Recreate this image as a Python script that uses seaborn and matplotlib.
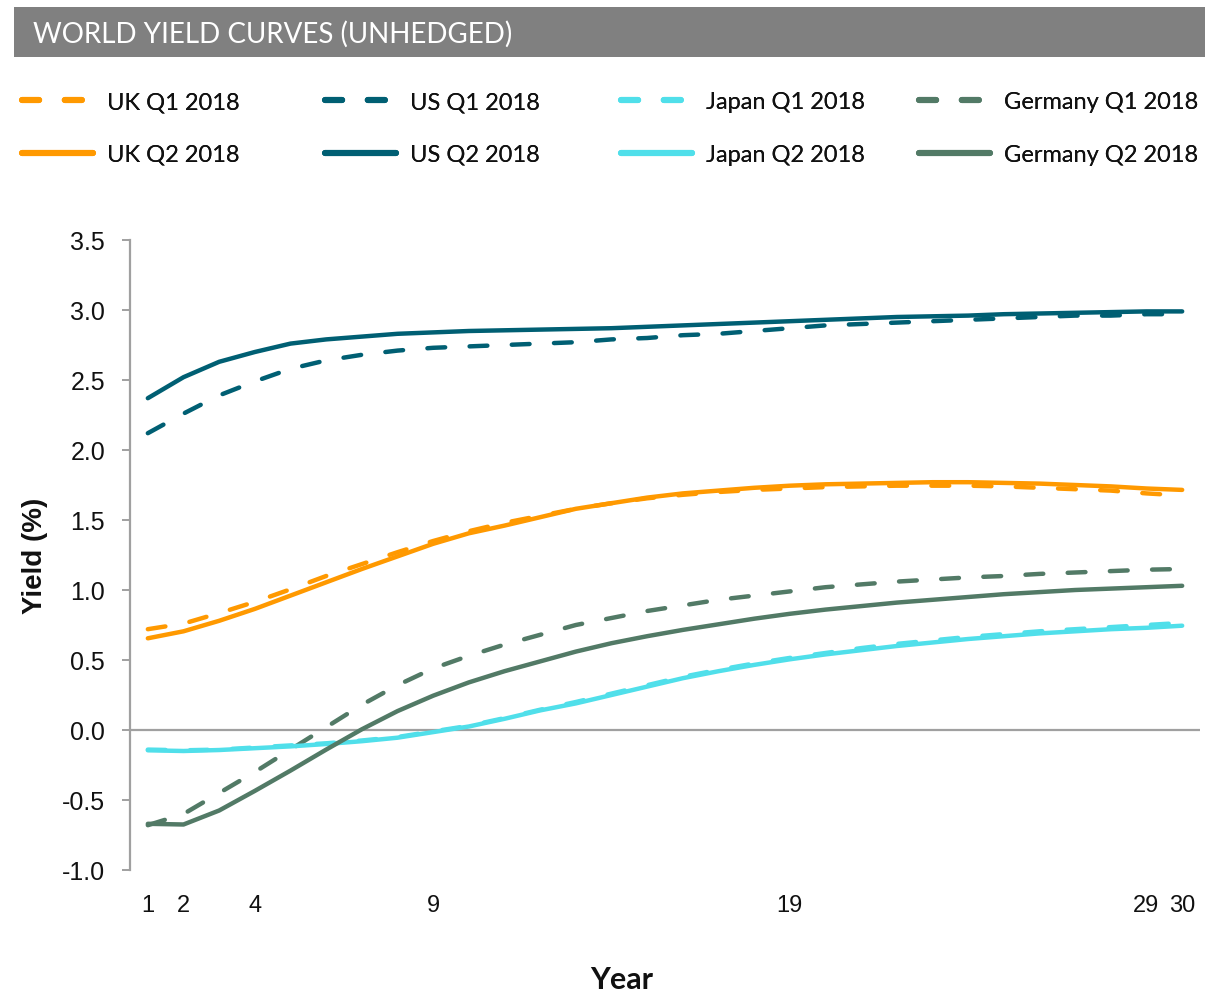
import numpy as np
import pandas as pd
import matplotlib
matplotlib.use("Agg")
import matplotlib.pyplot as plt
from matplotlib.lines import Line2D
from matplotlib.patches import Rectangle
import seaborn as sns

# ---- data -------------------------------------------------------------
years = list(range(1, 31))

uk_q1 = [0.72, 0.76, 0.835, 0.915, 1.005, 1.10, 1.185, 1.27, 1.35, 1.42,
         1.48, 1.53, 1.58, 1.62, 1.655, 1.68, 1.70, 1.715, 1.725, 1.735,
         1.74, 1.745, 1.745, 1.745, 1.74, 1.73, 1.72, 1.71, 1.69, 1.675]
uk_q2 = [0.655, 0.705, 0.78, 0.865, 0.96, 1.055, 1.15, 1.24, 1.33, 1.405,
         1.46, 1.52, 1.58, 1.62, 1.66, 1.69, 1.71, 1.73, 1.745, 1.755,
         1.76, 1.765, 1.77, 1.77, 1.765, 1.76, 1.75, 1.74, 1.725, 1.715]

us_q1 = [2.12, 2.26, 2.39, 2.49, 2.58, 2.64, 2.68, 2.71, 2.73, 2.74,
         2.75, 2.76, 2.77, 2.79, 2.80, 2.82, 2.83, 2.85, 2.87, 2.89,
         2.90, 2.91, 2.92, 2.93, 2.94, 2.95, 2.96, 2.96, 2.97, 2.97]
us_q2 = [2.37, 2.52, 2.63, 2.70, 2.76, 2.79, 2.81, 2.83, 2.84, 2.85,
         2.855, 2.86, 2.865, 2.87, 2.88, 2.89, 2.90, 2.91, 2.92, 2.93,
         2.94, 2.95, 2.955, 2.96, 2.97, 2.975, 2.98, 2.985, 2.99, 2.99]

japan_q1 = [-0.14, -0.145, -0.14, -0.125, -0.11, -0.095, -0.075, -0.05, -0.01, 0.03,
            0.085, 0.145, 0.20, 0.26, 0.32, 0.38, 0.43, 0.475, 0.515, 0.55,
            0.585, 0.615, 0.64, 0.665, 0.685, 0.705, 0.72, 0.735, 0.75, 0.765]
japan_q2 = [-0.145, -0.15, -0.143, -0.13, -0.117, -0.10, -0.08, -0.055, -0.015, 0.025,
            0.08, 0.14, 0.19, 0.25, 0.31, 0.37, 0.42, 0.465, 0.505, 0.54,
            0.57, 0.60, 0.625, 0.65, 0.67, 0.69, 0.705, 0.72, 0.73, 0.745]

germany_q1 = [-0.68, -0.60, -0.45, -0.30, -0.14, 0.02, 0.18, 0.32, 0.44, 0.53,
              0.61, 0.68, 0.75, 0.80, 0.85, 0.89, 0.93, 0.96, 0.99, 1.02,
              1.04, 1.06, 1.075, 1.09, 1.10, 1.115, 1.125, 1.135, 1.145, 1.15]
germany_q2 = [-0.67, -0.675, -0.575, -0.435, -0.29, -0.14, 0.005, 0.135, 0.245, 0.34,
              0.42, 0.49, 0.56, 0.62, 0.67, 0.715, 0.755, 0.795, 0.83, 0.86,
              0.885, 0.91, 0.93, 0.95, 0.97, 0.985, 1.0, 1.01, 1.02, 1.03]

x_ticks = [1, 2, 4, 9, 19, 29, 30]
y_ticks = [-1.0, -0.5, 0.0, 0.5, 1.0, 1.5, 2.0, 2.5, 3.0, 3.5]

series = {
    "UK Q1 2018": uk_q1, "US Q1 2018": us_q1,
    "Japan Q1 2018": japan_q1, "Germany Q1 2018": germany_q1,
    "UK Q2 2018": uk_q2, "US Q2 2018": us_q2,
    "Japan Q2 2018": japan_q2, "Germany Q2 2018": germany_q2,
}

# ---- styling ------------------------------------------------------------
ORANGE = "#FF9900"
TEAL = "#005F73"
CYAN = "#50DFEA"
GREEN = "#527A66"
GREY = "#A0A0A0"

palette = {
    "UK Q1 2018": ORANGE, "UK Q2 2018": ORANGE,
    "US Q1 2018": TEAL, "US Q2 2018": TEAL,
    "Japan Q1 2018": CYAN, "Japan Q2 2018": CYAN,
    "Germany Q1 2018": GREEN, "Germany Q2 2018": GREEN,
}
DASH = (4.0, 5.5)
dashes = {name: (DASH if "Q1" in name else "") for name in series}

df = pd.concat(
    [pd.DataFrame({"Year": years, "Yield": vals, "Series": name})
     for name, vals in series.items()],
    ignore_index=True,
)

sns.set_theme(style="white")
plt.rcParams["font.family"] = ["Liberation Sans", "DejaVu Sans"]

fig = plt.figure(figsize=(12.05, 9.95), dpi=100)
W, H = 1205, 995
ax = fig.add_axes([130 / W, 1 - 871 / H, (1200 - 130) / W, (871 - 241) / H])

hue_order = list(series.keys())
sns.lineplot(data=df, x="Year", y="Yield", hue="Series", style="Series",
             hue_order=hue_order, style_order=hue_order,
             palette=palette, dashes=dashes, linewidth=3.2,
             legend=False, ax=ax, zorder=3)
for ln in ax.get_lines():
    ln.set_dash_capstyle("round")
    ln.set_solid_capstyle("round")

ax.axhline(0, color=GREY, lw=1.6, zorder=1)

ax.set_xlim(0.5, 30.5)
ax.set_ylim(-1.0, 3.5)
ax.set_xticks(x_ticks)
ax.set_xticklabels([str(t) for t in x_ticks])
ax.set_yticks(y_ticks)
ax.set_yticklabels([f"{t:.1f}" for t in y_ticks])

for side in ("top", "right", "bottom"):
    ax.spines[side].set_visible(False)
ax.spines["left"].set_color(GREY)
ax.spines["left"].set_linewidth(1.6)

ax.tick_params(axis="y", which="major", left=True, length=6, width=1.4,
               color=GREY, pad=12, labelsize=18, labelcolor="#111111")
ax.tick_params(axis="x", which="major", bottom=False, length=0, pad=17,
               labelsize=17, labelcolor="#111111")

ax.set_xlabel("Year", fontsize=22, fontweight="bold", family=["Lato", "DejaVu Sans"],
              color="#111111")
ax.xaxis.set_label_coords((622 - 130) / 1070, -(980 - 871) / 630)
ax.xaxis.label.set_va("center")
ax.set_ylabel("Yield (%)", fontsize=20, fontweight="bold", labelpad=10, color="#111111")
ax.grid(False)

# ---- title bar ----------------------------------------------------------
fig.patches.append(Rectangle((14 / W, 1 - 58 / H), 1 - 14 / W, 50 / H,
                             transform=fig.transFigure, facecolor="#808080",
                             edgecolor="none", zorder=0))
fig.text(33 / W, 1 - 34 / H, "WORLD YIELD CURVES (UNHEDGED)", color="white",
         fontsize=20, fontweight="normal", family=["Lato", "DejaVu Sans"],
         va="center", ha="left")

# ---- legend: one block per country ---------------------------------------
columns = [("UK", ORANGE, 22), ("US", TEAL, 325), ("Japan", CYAN, 621),
           ("Germany", GREEN, 919)]
for country, color, xpx in columns:
    handles = [
        Line2D([0], [0], color=color, lw=4.4, dashes=(2.8, 4.2),
               dash_capstyle="round"),
        Line2D([0], [0], color=color, lw=4.4, solid_capstyle="round"),
    ]
    labels = [f"{country} Q1 2018", f"{country} Q2 2018"]
    leg = fig.legend(handles, labels, loc="center left",
                     bbox_to_anchor=(xpx / W, 1 - 129 / H),
                     frameon=False, borderpad=0, borderaxespad=0,
                     handlelength=3.0, handletextpad=0.6, labelspacing=1.35,
                     prop={"family": ["Lato", "DejaVu Sans"], "size": 17})
    for t in leg.get_texts():
        t.set_color("#111111")
    fig.add_artist(leg)

fig.savefig("out.png", dpi=100)
